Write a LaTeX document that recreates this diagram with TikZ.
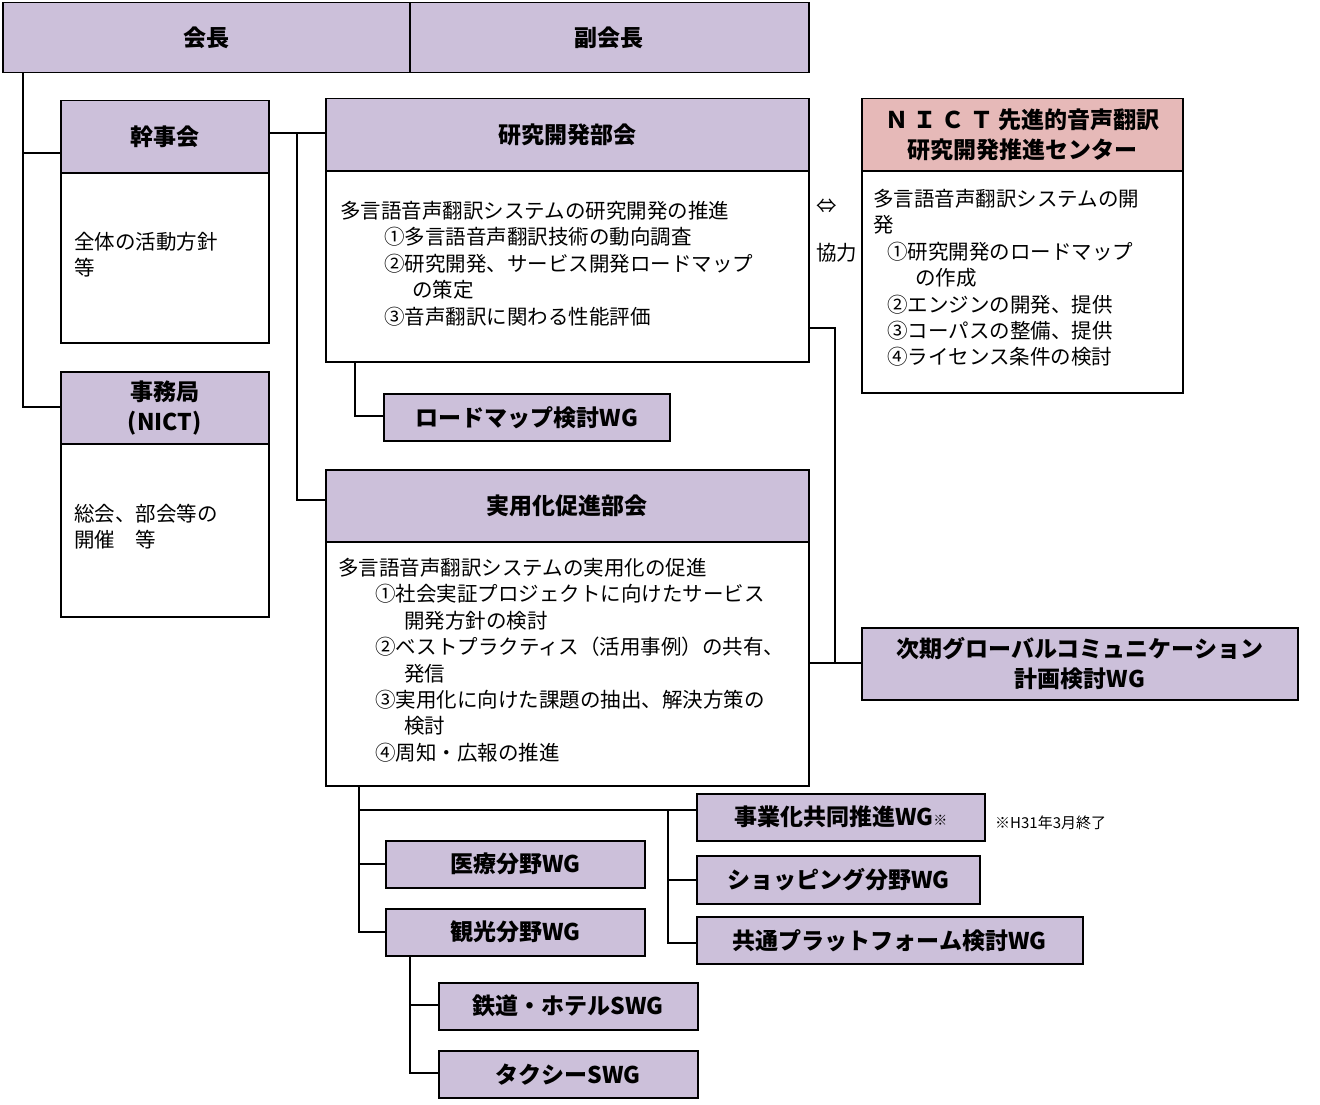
\documentclass[tikz,border=0pt]{standalone}
\usepackage{fontspec}
\setmainfont{Noto Sans CJK JP}
\begin{document}
\begin{tikzpicture}[x=1pt,y=-1pt,
  hbox/.style={draw, line width=1.5pt, fill=hdr, inner sep=0pt, align=center, anchor=north west, font=\bfseries\fontsize{23}{30}\selectfont},
  pbox/.style={hbox, fill=nicth},
  bbox/.style={draw, line width=1.5pt, fill=white, inner sep=0pt, anchor=north west},
  btxt/.style={anchor=north west, inner sep=0pt, align=left, font=\fontsize{20.5}{26.4}\selectfont},
  ln/.style={line width=1.5pt}]
\definecolor{hdr}{HTML}{CCC0DA}
\definecolor{nicth}{HTML}{E6B9B8}
\useasboundingbox[fill=white] (0,0) rectangle (1320,1105);
% lines
\draw[ln] (23,72) -- (23,407) -- (60,407);
\draw[ln] (23,153) -- (60,153);
\draw[ln] (268,133) -- (325,133);
\draw[ln] (297,133) -- (297,500) -- (325,500);
\draw[ln] (355,361) -- (355,416) -- (383,416);
\draw[ln] (808,328) -- (835,328) -- (835,663);
\draw[ln] (808,663) -- (861,663);
\draw[ln] (359,785) -- (359,932) -- (385,932);
\draw[ln] (359,810) -- (696,810);
\draw[ln] (359,864) -- (385,864);
\draw[ln] (668,810) -- (668,943) -- (696,943);
\draw[ln] (668,880) -- (696,880);
\draw[ln] (410,955) -- (410,1073) -- (438,1073);
\draw[ln] (410,1005) -- (438,1005);
% top
\node[hbox, minimum width=407pt, minimum height=70pt] (kaicho) at (2,2) {会長};
\node[hbox, minimum width=399pt, minimum height=70pt] (fuku) at (409,2) {副会長};
% kanjikai
\node[hbox, minimum width=208pt, minimum height=72pt] (kan) at (60,100) {幹事会};
\node[bbox, minimum width=208pt, minimum height=170pt] (kanb) at (60,172) {};
\node[btxt] at (74,232) {全体の活動方針\\等};
% jimukyoku
\node[hbox, minimum width=208pt, minimum height=72pt] (jim) at (60,371) {事務局\\(NICT)};
\node[bbox, minimum width=208pt, minimum height=173pt] (jimb) at (60,443) {};
\node[btxt] at (74,504) {総会、部会等の\\開催\hspace{1em}等};
% kenkyu
\node[hbox, minimum width=483pt, minimum height=72pt] (ken) at (325,98) {研究開発部会};
\node[bbox, minimum width=483pt, minimum height=191pt] (kenb) at (325,170) {};
\node[btxt] at (340,201) {多言語音声翻訳システムの研究開発の推進\\
\hspace*{44pt}①多言語音声翻訳技術の動向調査\\
\hspace*{44pt}②研究開発、サービス開発ロードマップ\\
\hspace*{72pt}の策定\\
\hspace*{44pt}③音声翻訳に関わる性能評価};
\node[btxt] at (816,199) {⇔};
\node[btxt] at (816,243) {協力};
% NICT
\node[pbox, minimum width=321pt, minimum height=72pt] (nict) at (861,98) {Ｎ Ｉ Ｃ Ｔ 先進的音声翻訳\\研究開発推進センター};
\node[bbox, minimum width=321pt, minimum height=222pt] (nictb) at (861,170) {};
\node[btxt] at (873,189) {多言語音声翻訳システムの開\\発\\
\hspace*{14pt}①研究開発のロードマップ\\
\hspace*{42pt}の作成\\
\hspace*{14pt}②エンジンの開発、提供\\
\hspace*{14pt}③コーパスの整備、提供\\
\hspace*{14pt}④ライセンス条件の検討};
\node[hbox, minimum width=286pt, minimum height=47pt] (road) at (383,393) {ロードマップ検討WG};
% jitsuyo
\node[hbox, minimum width=483pt, minimum height=72pt] (jit) at (325,469) {実用化促進部会};
\node[bbox, minimum width=483pt, minimum height=244pt] (jitb) at (325,541) {};
\node[btxt] at (338,558) {多言語音声翻訳システムの実用化の促進\\
\hspace*{37pt}①社会実証プロジェクトに向けたサービス\\
\hspace*{66pt}開発方針の検討\\
\hspace*{37pt}②ベストプラクティス（活用事例）の共有、\\
\hspace*{66pt}発信\\
\hspace*{37pt}③実用化に向けた課題の抽出、解決方策の\\
\hspace*{66pt}検討\\
\hspace*{37pt}④周知・広報の推進};
\node[hbox, minimum width=436pt, minimum height=72pt] (jiki) at (861,627) {次期グローバルコミュニケーション\\計画検討WG};
% WGs
\node[hbox, minimum width=288pt, minimum height=47pt] (jig) at (696,793) {事業化共同推進WG{\fontsize{14}{14}\selectfont ※}};
\node[anchor=west, inner sep=0pt, font=\fontsize{15}{18}\selectfont] at (995,823) {※H31年3月終了};
\node[hbox, minimum width=259pt, minimum height=47pt] (iryo) at (385,840) {医療分野WG};
\node[hbox, minimum width=283pt, minimum height=48pt] (shop) at (696,855) {ショッピング分野WG};
\node[hbox, minimum width=259pt, minimum height=47pt] (kanko) at (385,908) {観光分野WG};
\node[hbox, minimum width=386pt, minimum height=47pt] (kyotsu) at (696,916) {共通プラットフォーム検討WG};
\node[hbox, minimum width=259pt, minimum height=47pt] (tetsu) at (438,982) {鉄道・ホテルSWG};
\node[hbox, minimum width=259pt, minimum height=47pt] (taxi) at (438,1050) {タクシーSWG};
\end{tikzpicture}
\end{document}
